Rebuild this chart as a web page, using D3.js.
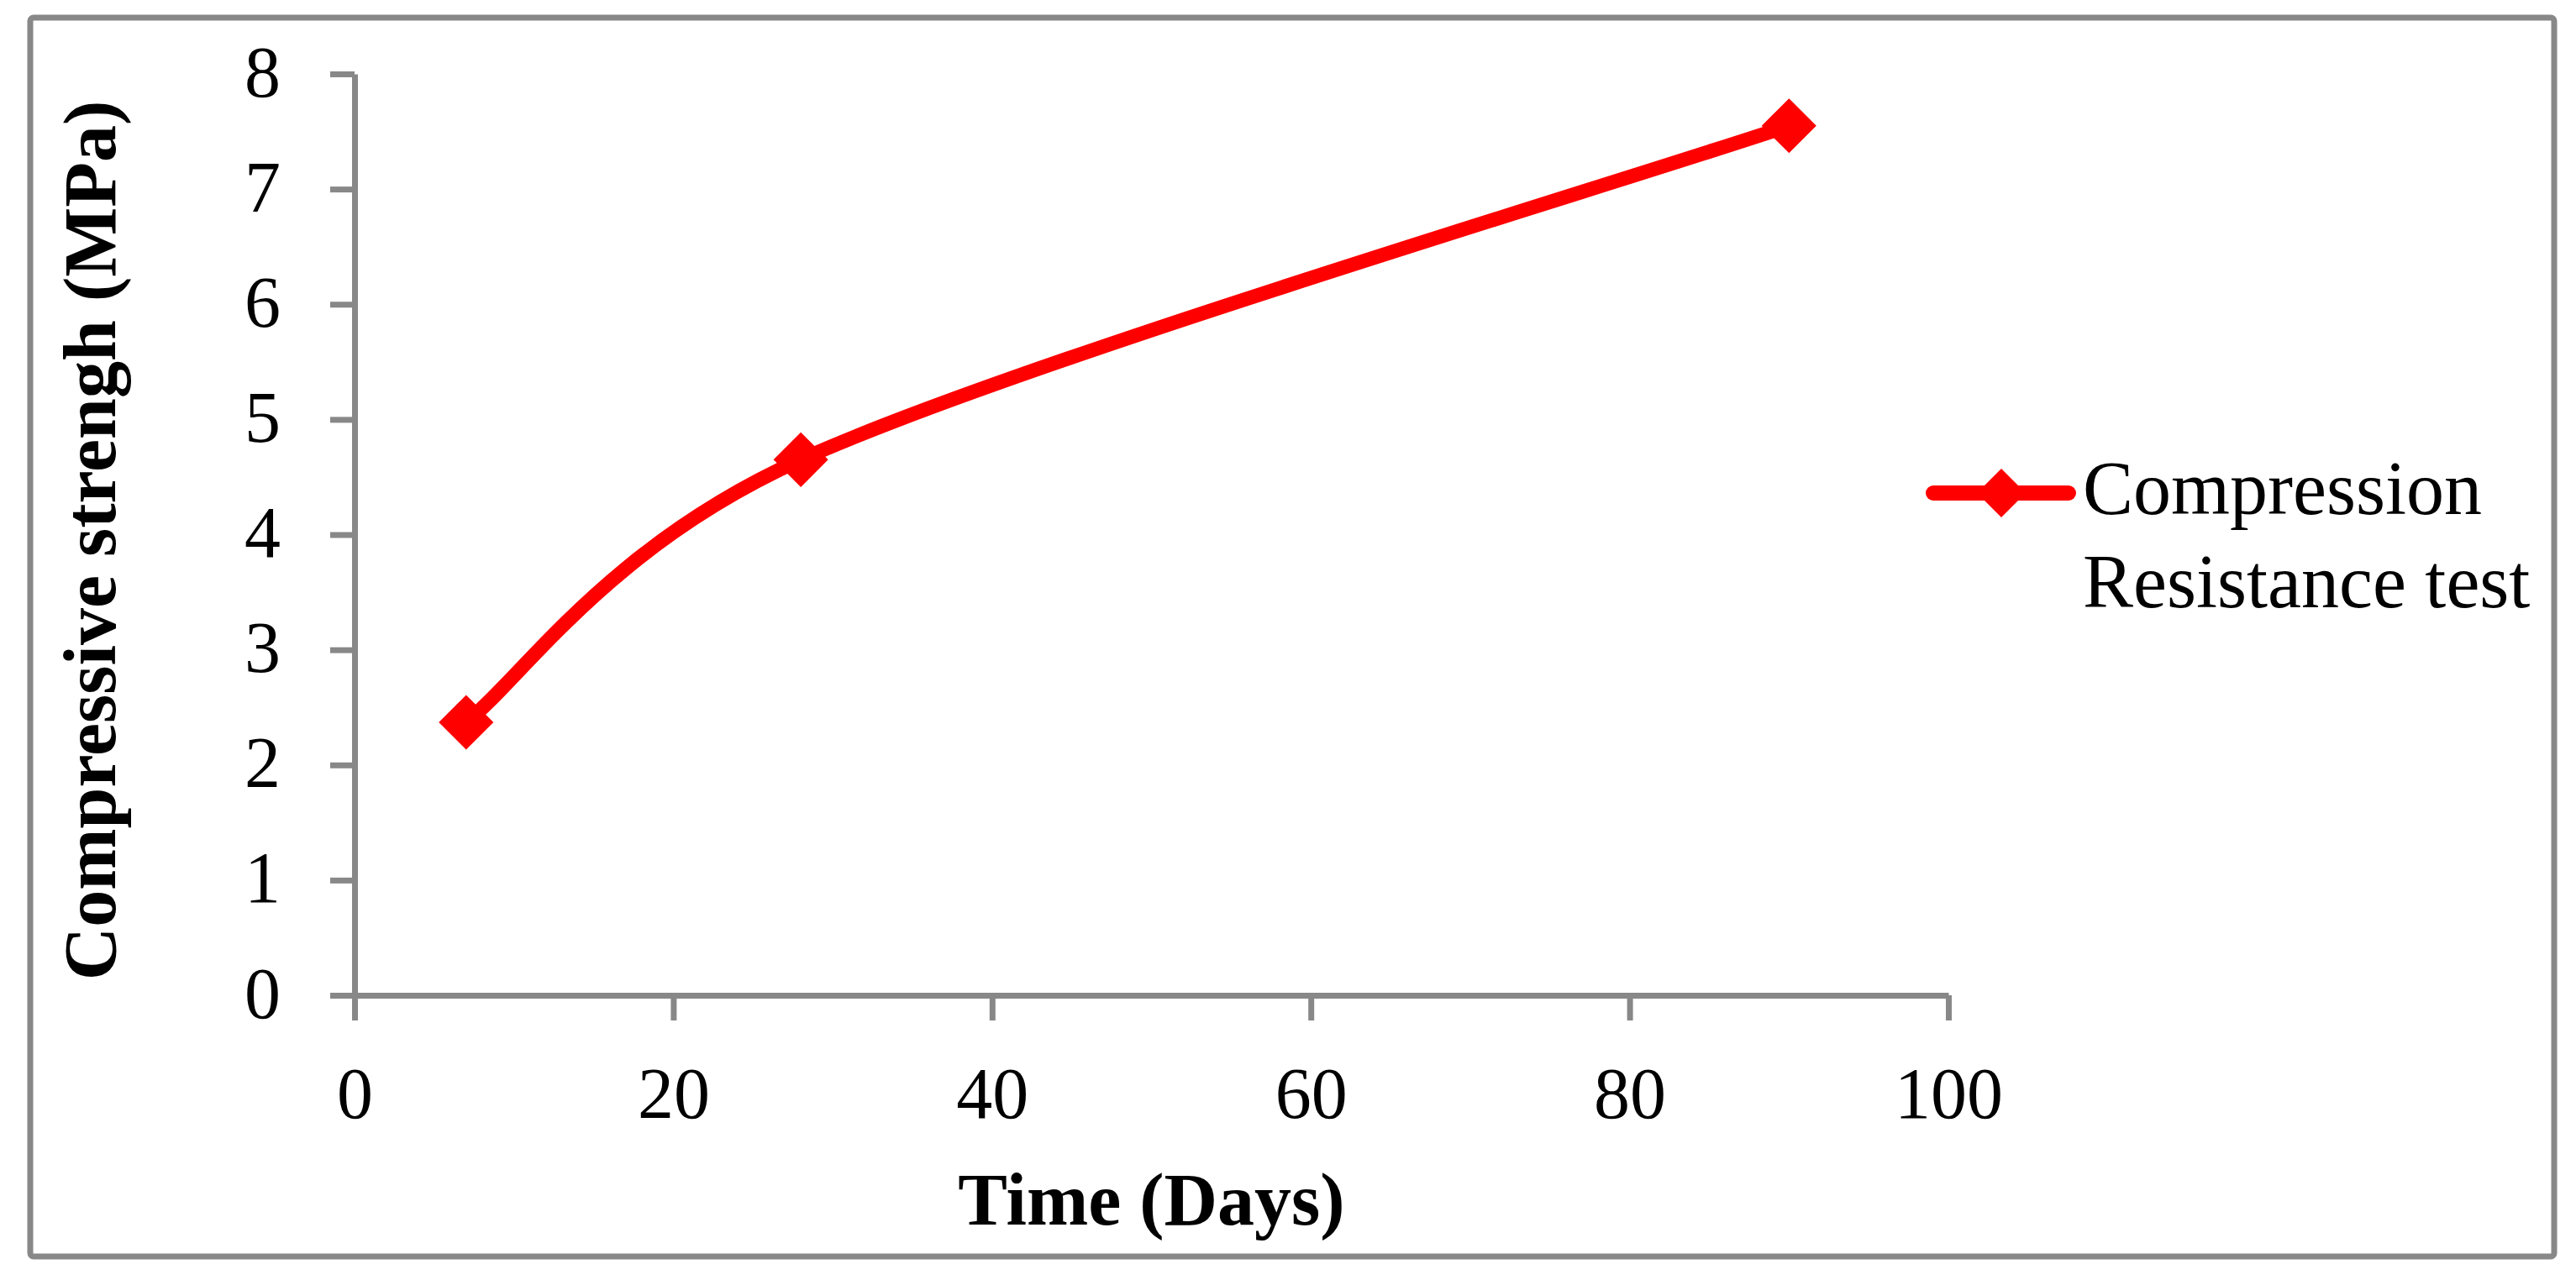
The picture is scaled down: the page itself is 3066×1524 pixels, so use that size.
<!DOCTYPE html>
<html>
<head>
<meta charset="utf-8">
<script src="https://cdn.jsdelivr.net/npm/d3@7"></script>
<style>
  html, body { margin: 0; padding: 0; background: #fff; }
  svg { display: block; }
</style>
</head>
<body>
<svg id="chart" width="3066" height="1524"></svg>
<script>
// ---- data ----
const days = [7, 28, 90];
const strength = [2.37, 4.65, 7.55];
const seriesName = ["Compression", "Resistance test"];
const xTicks = [0, 20, 40, 60, 80, 100];
const yTicks = [0, 1, 2, 3, 4, 5, 6, 7, 8];
const xTitle = "Time (Days)";
const yTitle = "Compressive strengh (MPa)";

// ---- layout ----
const plot = { left: 422, right: 2319, top: 88, bottom: 1185 };
const axisColor = "#888888";
const red = "#ff0000";
const font = "'Liberation Serif', 'Times New Roman', serif";

const svg = d3.select("#chart");

// outer frame
svg.append("rect")
  .attr("x", 36).attr("y", 21)
  .attr("width", 3040 - 36).attr("height", 1496 - 21)
  .attr("rx", 4)
  .attr("fill", "#fff")
  .attr("stroke", axisColor)
  .attr("stroke-width", 7);

const x = d3.scaleLinear().domain([0, 100]).range([plot.left, plot.right]);
const y = d3.scaleLinear().domain([0, 8]).range([plot.bottom, plot.top]);

// x axis
const gx = svg.append("g")
  .attr("transform", `translate(0,${plot.bottom})`)
  .call(d3.axisBottom(x).tickValues(xTicks).tickSize(30).tickSizeOuter(0).tickFormat(d3.format("d")));
// y axis
const gy = svg.append("g")
  .attr("transform", `translate(${plot.left},0)`)
  .call(d3.axisLeft(y).tickValues(yTicks).tickSize(29).tickSizeOuter(0).tickPadding(59).tickFormat(d3.format("d")));

[gx, gy].forEach(g => {
  g.select(".domain").attr("stroke", axisColor).attr("stroke-width", 7);
  g.selectAll(".tick line").attr("stroke", axisColor).attr("stroke-width", 7);
  g.selectAll(".tick text")
    .attr("fill", "#000")
    .style("font-family", font)
    .style("font-size", "86px");
});
gx.selectAll(".tick text").attr("dy", "0").attr("y", 146);
gy.selectAll(".tick text").attr("dy", "0").attr("y", 26);

// axis titles
svg.append("text")
  .attr("x", (plot.left + plot.right) / 2)
  .attr("y", 1458)
  .attr("text-anchor", "middle")
  .style("font-family", font)
  .style("font-size", "88px")
  .style("font-weight", "bold")
  .text(xTitle);

svg.append("text")
  .attr("transform", `translate(137,${(118 + 1169) / 2}) rotate(-90)`)
  .attr("text-anchor", "middle")
  .style("font-family", font)
  .style("font-size", "88px")
  .style("font-weight", "bold")
  .text(yTitle);

// series: Excel-style smoothed line (Bezier with limited control arms)
const pts = days.map((d, i) => [d, strength[i]]);
const sp = pts.map(d => [x(d[0]), y(d[1])]);
function smoothPath(p) {
  const path = d3.path();
  path.moveTo(p[0][0], p[0][1]);
  const n = p.length;
  const dist = (a, b) => Math.hypot(b[0] - a[0], b[1] - a[1]);
  for (let i = 0; i < n - 1; i++) {
    const p0 = p[Math.max(i - 1, 0)], p1 = p[i], p2 = p[i + 1], p3 = p[Math.min(i + 2, n - 1)];
    const seg = dist(p1, p2);
    let f1 = 1 / 6, f2 = 1 / 6;
    const d02 = dist(p0, p2), d13 = dist(p1, p3);
    if (d02 * f1 > seg / 2) f1 = seg / 2 / d02;
    if (d13 * f2 > seg / 2) f2 = seg / 2 / d13;
    const c1 = [p1[0] + (p2[0] - p0[0]) * f1, p1[1] + (p2[1] - p0[1]) * f1];
    const c2 = [p2[0] - (p3[0] - p1[0]) * f2, p2[1] - (p3[1] - p1[1]) * f2];
    path.bezierCurveTo(c1[0], c1[1], c2[0], c2[1], p2[0], p2[1]);
  }
  return path.toString();
}

svg.append("path")
  .attr("d", smoothPath(sp))
  .attr("fill", "none")
  .attr("stroke", red)
  .attr("stroke-width", 17)
  .attr("stroke-linecap", "round")
  .attr("stroke-linejoin", "round");

const marker = d3.symbol().type(d3.symbolSquare).size(46 * 46);
svg.append("g").selectAll("path")
  .data(pts)
  .join("path")
  .attr("d", marker)
  .attr("transform", d => `translate(${x(d[0])},${y(d[1])}) rotate(45)`)
  .attr("fill", red);

// legend
const lg = svg.append("g");
lg.append("line")
  .attr("x1", 2301).attr("x2", 2462)
  .attr("y1", 587).attr("y2", 587)
  .attr("stroke", red)
  .attr("stroke-width", 18)
  .attr("stroke-linecap", "round");
lg.append("path")
  .attr("d", d3.symbol().type(d3.symbolSquare).size(41 * 41)())
  .attr("transform", "translate(2382,587) rotate(45)")
  .attr("fill", red);
lg.selectAll("text.leg")
  .data(seriesName)
  .join("text")
  .attr("class", "leg")
  .attr("x", 2479)
  .attr("y", (d, i) => 612 + i * 111)
  .style("font-family", font)
  .style("font-size", "90px")
  .text(d => d);
</script>
</body>
</html>
